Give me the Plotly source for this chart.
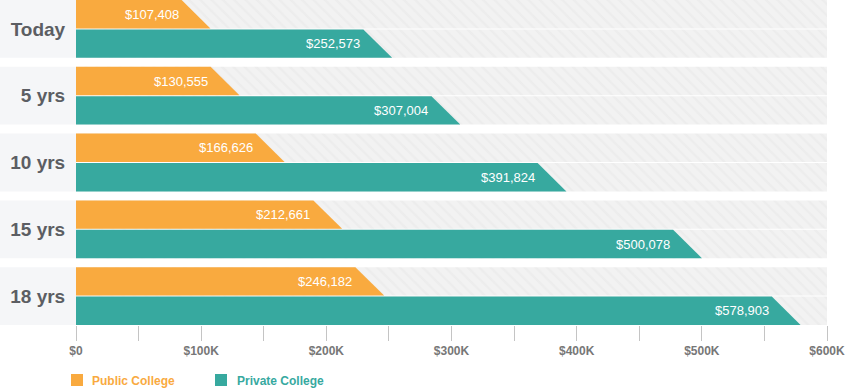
import plotly.graph_objects as go

categories = ["Today", "5 yrs", "10 yrs", "15 yrs", "18 yrs"]
public_values = [107408, 130555, 166626, 212661, 246182]
private_values = [252573, 307004, 391824, 500078, 578903]
tick_values = [0, 100000, 200000, 300000, 400000, 500000, 600000]
tick_labels = ["$0", "$100K", "$200K", "$300K", "$400K", "$500K", "$600K"]
series_names = ["Public College", "Private College"]

ORANGE = "#f9aa3f"
TEAL = "#37a99f"
FONT = "Arial, Liberation Sans, sans-serif"
XMAX = 600000
SLANT = 23000
OFF = 0.22
HALF = 0.2125

fig = go.Figure()

# hatched background bars
bg_y = []
for i in range(len(categories)):
    bg_y += [i - OFF, i + OFF]
fig.add_trace(go.Bar(
    orientation="h", x=[XMAX] * len(bg_y), y=bg_y, width=2 * HALF,
    marker=dict(color="#f2f2f2", line=dict(width=0),
                pattern=dict(shape="\\", fgcolor="#e7e7e7", bgcolor="#f2f2f2",
                             size=8, solidity=0.3)),
    showlegend=False, hoverinfo="skip"))

def add_bars(values, offset, color):
    for i, v in enumerate(values):
        c = i + offset
        fig.add_trace(go.Scatter(
            x=[0, v - SLANT, v, 0, 0],
            y=[c - HALF, c - HALF, c + HALF, c + HALF, c - HALF],
            mode="lines", fill="toself", fillcolor=color,
            line=dict(width=0, color=color), showlegend=False, hoverinfo="skip"))
        fig.add_annotation(x=v - SLANT, y=c, text="${:,}".format(v),
                           xanchor="right", yanchor="middle", showarrow=False,
                           xshift=-1, font=dict(family=FONT, size=13, color="white"))

add_bars(public_values, -OFF, ORANGE)
add_bars(private_values, OFF, TEAL)

# left label panels
for i in range(len(categories)):
    fig.add_shape(type="rect", xref="paper", yref="y",
                  x0=-76 / 751, x1=0, y0=i - OFF - HALF, y1=i + OFF + HALF,
                  fillcolor="#f5f6f8", line=dict(width=0), layer="below")

# custom legend
def px_x(p):
    return (p - 76) / 751

def px_y(p):
    return (325 - p) / 325

for (x0, color, name, tx) in [(71, ORANGE, series_names[0], 90), (215, TEAL, series_names[1], 235)]:
    fig.add_shape(type="rect", xref="paper", yref="paper",
                  x0=px_x(x0), x1=px_x(x0 + 12), y0=px_y(374), y1=px_y(386),
                  fillcolor=color, line=dict(width=0))
    fig.add_annotation(xref="paper", yref="paper", x=px_x(tx), y=px_y(380.5),
                       text=name, showarrow=False, xanchor="left", yanchor="middle",
                       font=dict(family=FONT, size=12, color=color, weight="bold"))

fig.update_layout(
    width=851, height=388,
    margin=dict(l=76, r=24, t=0, b=63),
    plot_bgcolor="white", paper_bgcolor="white",
    barmode="overlay", showlegend=False,
    xaxis=dict(range=[0, XMAX], tickvals=tick_values, ticktext=tick_labels,
               showgrid=False, zeroline=False, showline=False,
               ticks="outside", ticklen=15, tickwidth=1, tickcolor="#c4c4c4",
               tickfont=dict(family=FONT, size=12, color="#777777", weight="bold"),
               minor=dict(dtick=50000, ticks="outside", ticklen=15, tickwidth=1,
                          tickcolor="#c4c4c4", showgrid=False)),
    yaxis=dict(range=[len(categories) - 1 + OFF + HALF, -OFF - HALF],
               tickvals=list(range(len(categories))), ticktext=categories,
               showgrid=False, zeroline=False, showline=False,
               ticks="outside", ticklen=6, tickcolor="rgba(0,0,0,0)",
               tickfont=dict(family=FONT, size=19, color="#5c5e63", weight="bold")),
)

fig.write_html("out.html", config={"displayModeBar": False},
               post_script="document.body.style.margin='0';")
